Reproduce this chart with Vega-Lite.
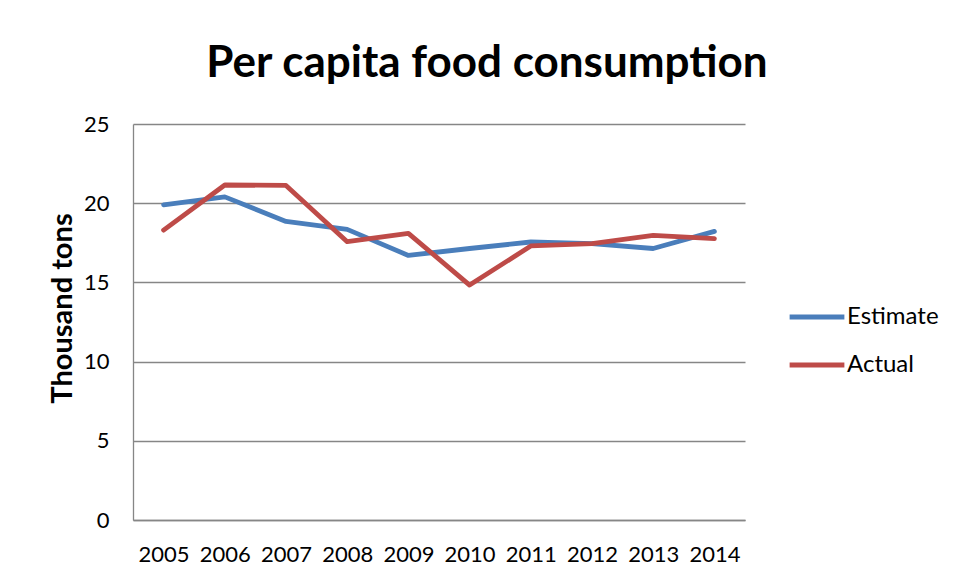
{
  "$schema": "https://vega.github.io/schema/vega-lite/v6.json",
  "width": 612,
  "height": 396,
  "autosize": {"type": "none"},
  "padding": {"left": 133, "top": 124, "right": 209, "bottom": 61},
  "background": "white",
  "title": {
    "text": "Per capita food consumption",
    "font": "Lato",
    "fontSize": 44,
    "fontWeight": "bold",
    "color": "#000000",
    "anchor": "middle",
    "dx": 48,
    "offset": 27
  },
  "data": {
    "values": [
      {"year": "2005", "series": "Estimate", "value": 19.9},
      {"year": "2006", "series": "Estimate", "value": 20.4},
      {"year": "2007", "series": "Estimate", "value": 18.85},
      {"year": "2008", "series": "Estimate", "value": 18.35},
      {"year": "2009", "series": "Estimate", "value": 16.7},
      {"year": "2010", "series": "Estimate", "value": 17.14},
      {"year": "2011", "series": "Estimate", "value": 17.55},
      {"year": "2012", "series": "Estimate", "value": 17.45},
      {"year": "2013", "series": "Estimate", "value": 17.14},
      {"year": "2014", "series": "Estimate", "value": 18.22},
      {"year": "2005", "series": "Actual", "value": 18.3},
      {"year": "2006", "series": "Actual", "value": 21.15},
      {"year": "2007", "series": "Actual", "value": 21.12},
      {"year": "2008", "series": "Actual", "value": 17.57},
      {"year": "2009", "series": "Actual", "value": 18.1},
      {"year": "2010", "series": "Actual", "value": 14.83},
      {"year": "2011", "series": "Actual", "value": 17.3},
      {"year": "2012", "series": "Actual", "value": 17.45},
      {"year": "2013", "series": "Actual", "value": 17.97},
      {"year": "2014", "series": "Actual", "value": 17.76}
    ]
  },
  "mark": {"type": "line", "strokeWidth": 4.8, "strokeJoin": "round", "strokeCap": "round"},
  "encoding": {
    "x": {
      "field": "year",
      "type": "ordinal",
      "scale": {"type": "point", "padding": 0.5},
      "axis": {
        "title": null,
        "labelAngle": 0,
        "labelFont": "Lato",
        "labelFontSize": 22,
        "labelColor": "#000000",
        "labelPadding": 24,
        "ticks": false,
        "grid": false,
        "domainColor": "#868686",
        "domainWidth": 1.3
      }
    },
    "y": {
      "field": "value",
      "type": "quantitative",
      "scale": {"domain": [0, 25], "nice": false},
      "axis": {
        "title": "Thousand tons",
        "titleFont": "Lato",
        "titleFontSize": 29,
        "titleFontWeight": "bold",
        "titleColor": "#000000",
        "titleX": -71,
        "titleY": 184,
        "titleAlign": "center",
        "titleBaseline": "middle",
        "titleAngle": 270,
        "values": [0, 5, 10, 15, 20, 25],
        "labelFont": "Lato",
        "labelFontSize": 22,
        "labelColor": "#000000",
        "labelPadding": 24,
        "ticks": false,
        "grid": true,
        "gridColor": "#868686",
        "gridWidth": 1.3,
        "domainColor": "#868686",
        "domainWidth": 1.3
      }
    },
    "color": {
      "field": "series",
      "type": "nominal",
      "sort": ["Estimate", "Actual"],
      "scale": {"domain": ["Estimate", "Actual"], "range": ["#4A7EBB", "#BE4B48"]},
      "legend": {
        "title": null,
        "orient": "none",
        "legendX": 654,
        "legendY": 163,
        "symbolType": "stroke",
        "symbolSize": 3000,
        "symbolStrokeWidth": 4.8,
        "labelFont": "Lato",
        "labelFontSize": 24,
        "labelColor": "#000000",
        "labelOffset": 0,
        "rowPadding": 6
      }
    }
  },
  "config": {
    "view": {"stroke": null}
  }
}
